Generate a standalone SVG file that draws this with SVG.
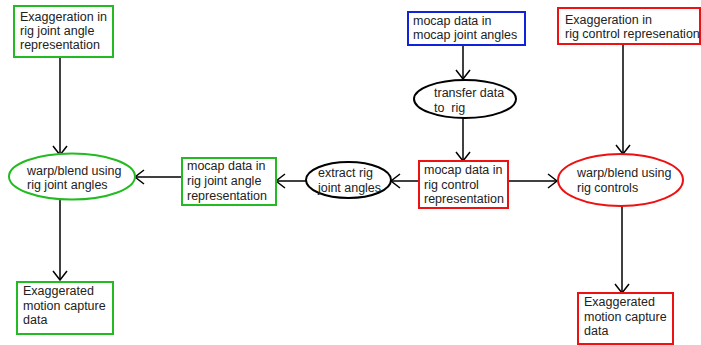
<svg xmlns="http://www.w3.org/2000/svg" width="701" height="345" viewBox="0 0 701 345">
<style>
text{font-family:"Liberation Sans",Arial,sans-serif;font-size:12.5px;fill:#222;white-space:pre}
.g{fill:#fff;stroke:#22bb22;stroke-width:2}
.r{fill:#fff;stroke:#ee1111;stroke-width:2}
.b{fill:#fff;stroke:#1122dd;stroke-width:2}
.k{fill:#fff;stroke:#000;stroke-width:2}
.c{fill:none;stroke:#000;stroke-width:1.5;marker-end:url(#ah)}
</style>
<defs>
<marker id="ah" markerUnits="userSpaceOnUse" markerWidth="20" markerHeight="20" refX="12" refY="10" orient="auto">
<path d="M3,3 L12,10 L3,17" fill="none" stroke="#000" stroke-width="1.5"/>
</marker>
</defs>
<g id="connectors">
<path class="c" d="M60,57 V155"/>
<path class="c" d="M60,200 V280"/>
<path class="c" d="M182,177 H135"/>
<path class="c" d="M306,181 H276"/>
<path class="c" d="M419,181 H391"/>
<path class="c" d="M508,181 H557"/>
<path class="c" d="M463,45 V79"/>
<path class="c" d="M463,118 V161"/>
<path class="c" d="M623,44 V154"/>
<path class="c" d="M622,206 V293"/>
</g>
<g id="n1"><rect class="g" x="14" y="6" width="99" height="51"/><text x="20" y="21">Exaggeration in</text><text x="20" y="35">rig joint angle</text><text x="20" y="49">representation</text></g>
<g id="n2"><ellipse class="g" cx="72" cy="176.5" rx="63" ry="23"/><text x="27" y="175">warp/blend using</text><text x="27" y="189">rig joint angles</text></g>
<g id="n3"><rect class="g" x="17" y="282" width="96" height="52"/><text x="23" y="295">Exaggerated</text><text x="23" y="310">motion capture</text><text x="23" y="324">data</text></g>
<g id="n4"><rect class="g" x="182" y="158" width="94" height="47"/><text x="187" y="170">mocap data in</text><text x="187" y="185">rig joint angle</text><text x="187" y="200">representation</text></g>
<g id="n5"><ellipse class="k" cx="348.5" cy="180" rx="42.5" ry="18"/><text x="318" y="177">extract rig</text><text x="318" y="192" textLength="63">joint angles</text></g>
<g id="n6"><rect class="r" x="419" y="161" width="89" height="47"/><text x="424" y="174">mocap data in</text><text x="424" y="189">rig control</text><text x="424" y="203">representation</text></g>
<g id="n7"><rect class="b" x="408" y="12" width="117" height="33"/><text x="413" y="25">mocap data in</text><text x="413" y="39">mocap joint angles</text></g>
<g id="n8"><ellipse class="k" cx="465" cy="99" rx="51" ry="19"/><text x="434" y="97">transfer data</text><text x="434" y="112" xml:space="preserve">to  rig</text></g>
<g id="n9"><rect class="r" x="558" y="8" width="142" height="36"/><text x="565" y="24">Exaggeration in</text><text x="565" y="38">rig control represenation</text></g>
<g id="n10"><ellipse class="r" cx="620.5" cy="180" rx="62.5" ry="26"/><text x="577" y="177">warp/blend using</text><text x="577" y="192">rig controls</text></g>
<g id="n11"><rect class="r" x="578" y="293" width="95" height="51"/><text x="584" y="306">Exaggerated</text><text x="584" y="321">motion capture</text><text x="584" y="335">data</text></g>
</svg>
